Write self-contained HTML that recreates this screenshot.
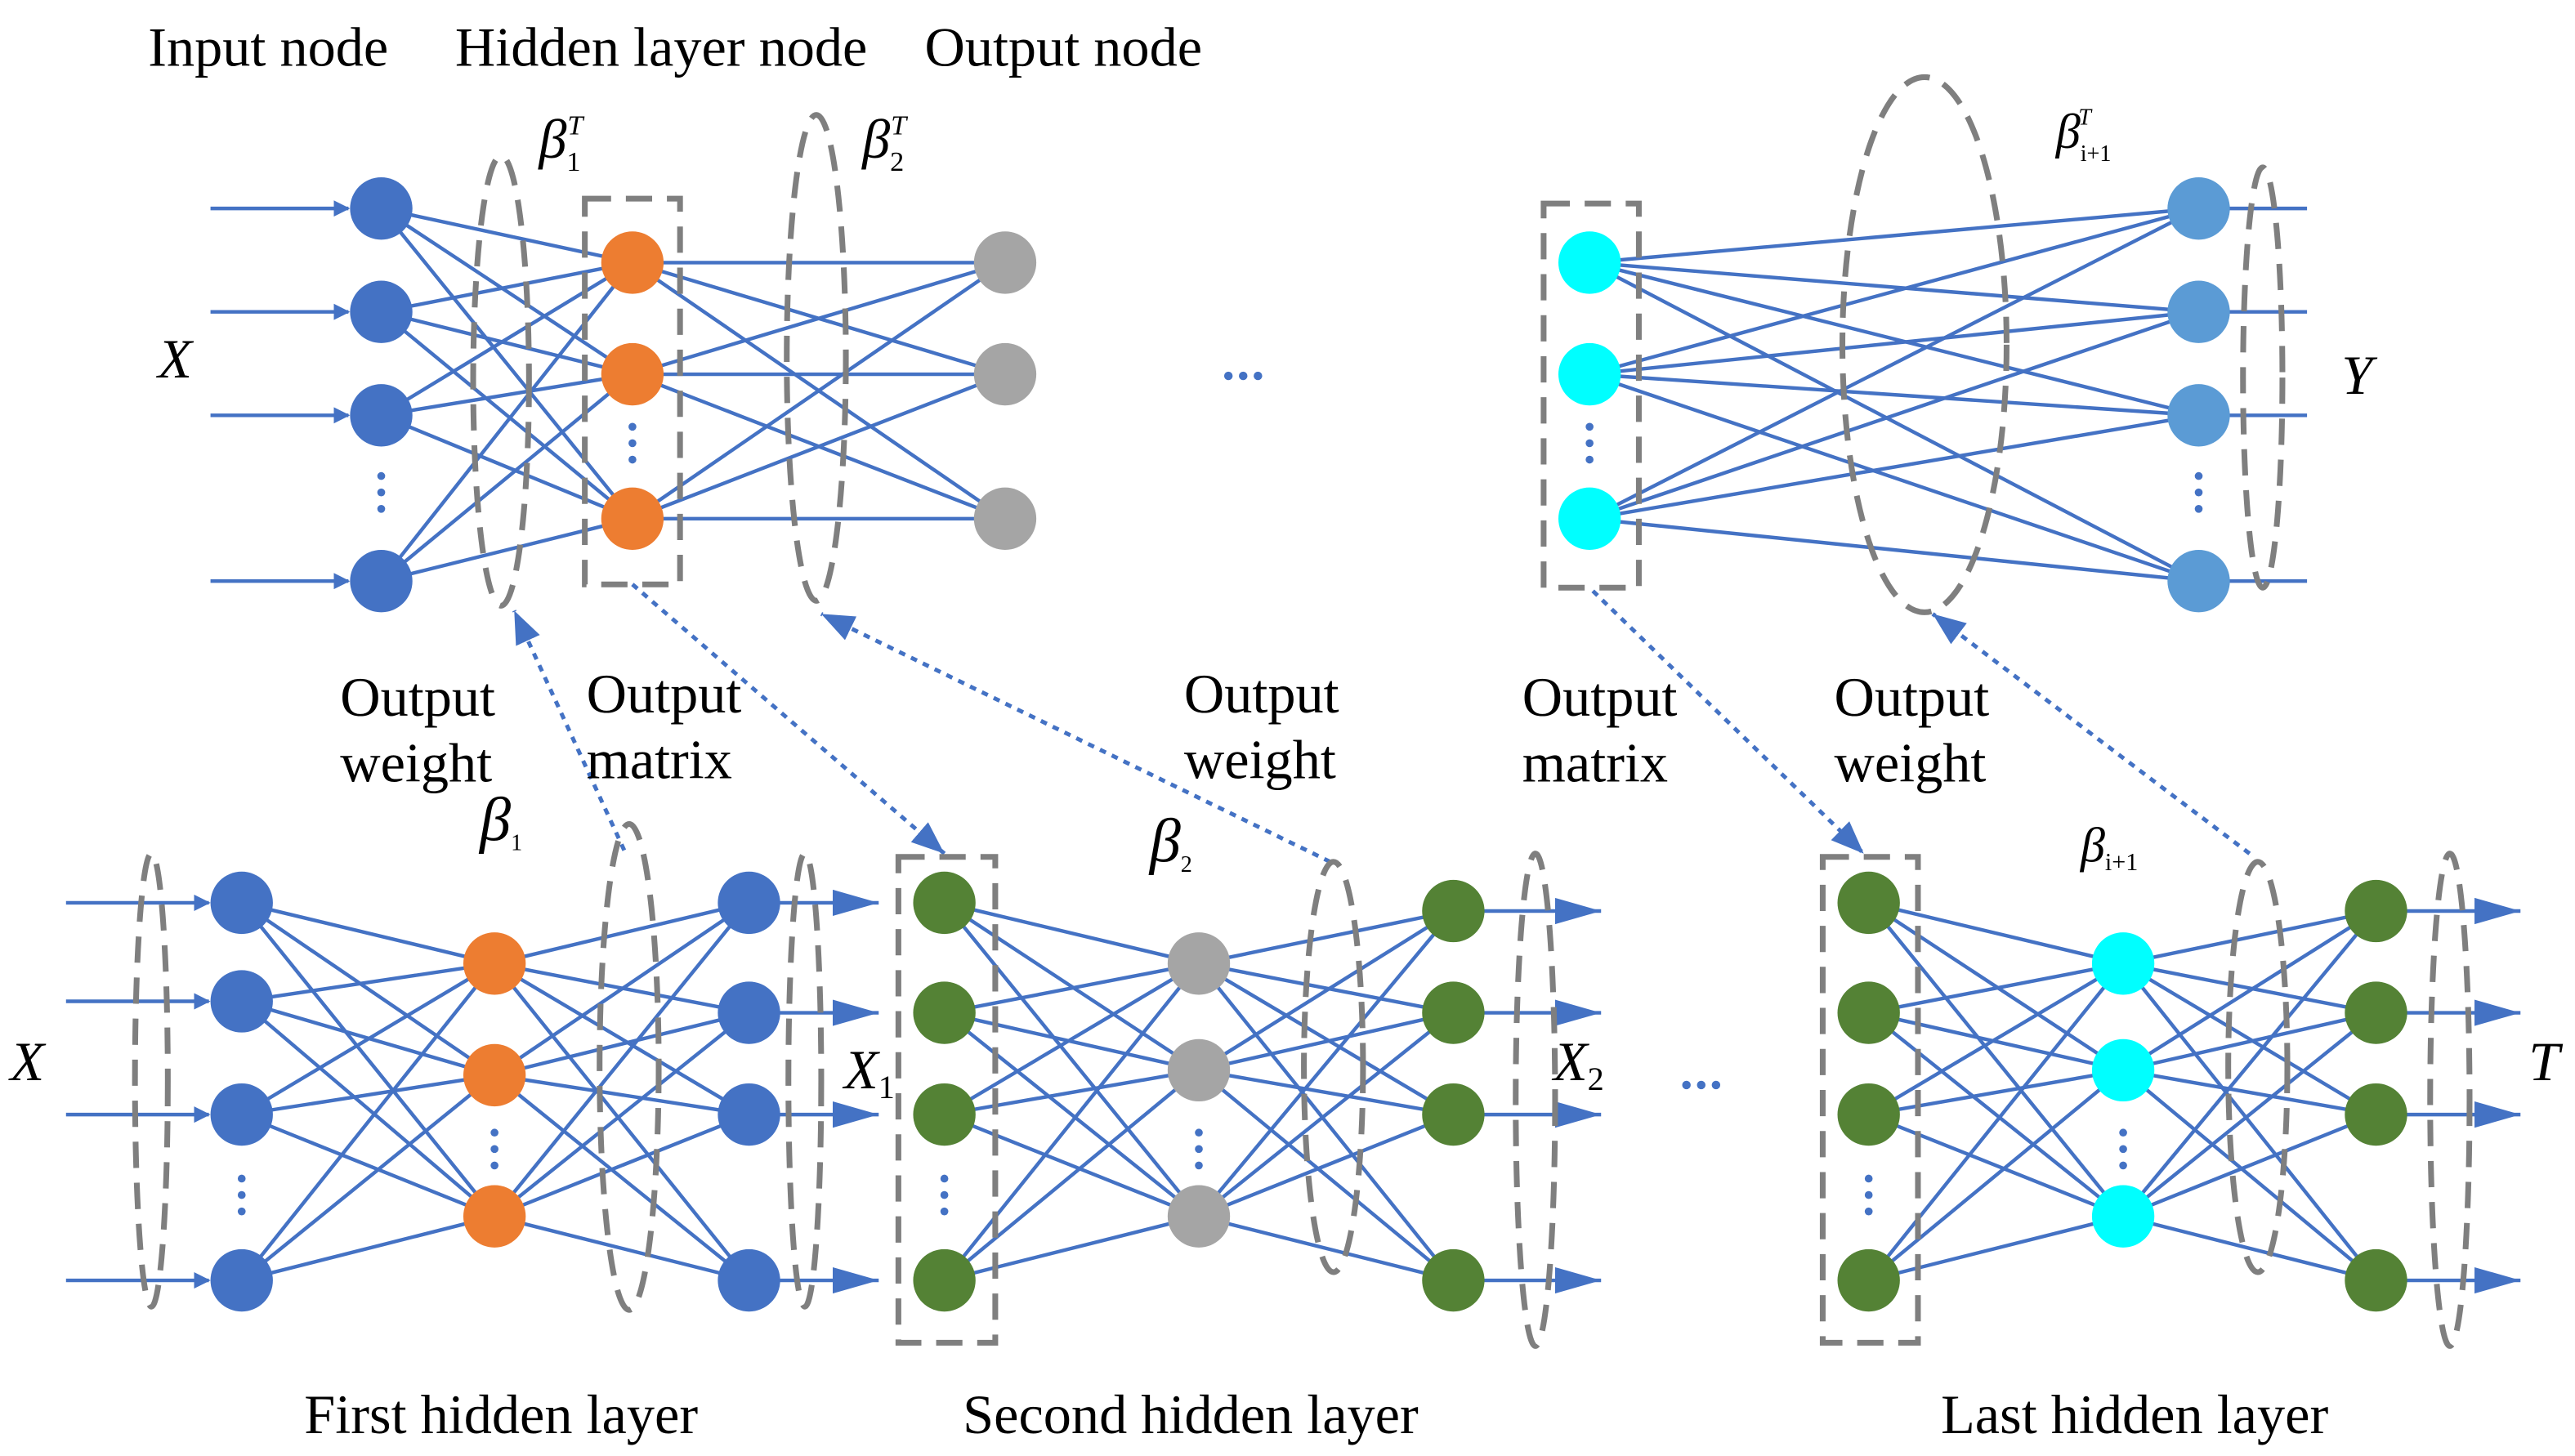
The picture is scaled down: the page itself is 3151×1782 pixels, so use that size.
<!DOCTYPE html>
<html><head><meta charset="utf-8">
<style>
html,body{margin:0;padding:0;background:#fff;}
svg{display:block;}
text{font-family:"Liberation Serif",serif;fill:#000;}
</style></head>
<body>
<svg id="s" width="3151" height="1782" viewBox="0 0 1568 887" xmlns="http://www.w3.org/2000/svg">
<defs>
<marker id="ah" markerWidth="10" markerHeight="10" refX="9" refY="5" orient="auto" markerUnits="userSpaceOnUse"><path d="M0,0 L10,5 L0,10 z" fill="#4472C4"/></marker>
<marker id="bh" markerWidth="30" markerHeight="20" refX="28" refY="10" orient="auto" markerUnits="userSpaceOnUse"><path d="M0,2 L28,10 L0,18 z" fill="#4472C4"/></marker>
<marker id="dh" markerWidth="22" markerHeight="18" refX="20" refY="9" orient="auto" markerUnits="userSpaceOnUse"><path d="M0,1 L20,9 L0,17 z" fill="#4472C4"/></marker>
</defs>
<g id="lines" stroke="#4472C4" stroke-width="2.2" fill="none"></g>
<g id="shapes" fill="none" stroke="#7F7F7F" stroke-width="3.5" stroke-dasharray="16,9"></g>
<g id="nodes"></g>
<g id="txt" font-size="34">
<text x="90" y="40">Input node</text>
<text x="277" y="40">Hidden layer node</text>
<text x="563" y="40">Output node</text>
<text x="96" y="230" font-style="italic">X</text>
<text x="328" y="96" font-style="italic">β<tspan font-size="17" font-style="normal" dy="8">1</tspan><tspan font-size="17" dx="-8" dy="-22">T</tspan></text>
<text x="525" y="96" font-style="italic">β<tspan font-size="17" font-style="normal" dy="8">2</tspan><tspan font-size="17" dx="-8" dy="-22">T</tspan></text>
<text x="1252" y="90" font-style="italic" font-size="30">β<tspan font-size="14" font-style="normal" dy="8">i+1</tspan><tspan font-size="14" dx="-20" dy="-22">T</tspan></text>
<text x="1426" y="240" font-style="italic">Y</text>
<text x="207" y="436">Output</text><text x="207" y="476">weight</text>
<text x="357" y="434">Output</text><text x="357" y="474">matrix</text>
<text x="721" y="434">Output</text><text x="721" y="474">weight</text>
<text x="927" y="436">Output</text><text x="927" y="476">matrix</text>
<text x="1117" y="436">Output</text><text x="1117" y="476">weight</text>
<text x="292" y="512" font-style="italic" font-size="38">β<tspan font-size="14" font-style="normal" dy="6">1</tspan></text>
<text x="700" y="525" font-style="italic" font-size="38">β<tspan font-size="14" font-style="normal" dy="6">2</tspan></text>
<text x="1267" y="525" font-style="italic" font-size="30">β<tspan font-size="15" font-style="normal" dy="5">i+1</tspan></text>
<text x="6" y="658" font-style="italic">X</text>
<text x="514" y="663" font-style="italic">X<tspan font-size="20" font-style="normal" dy="6">1</tspan></text>
<text x="946" y="658" font-style="italic">X<tspan font-size="20" font-style="normal" dy="6">2</tspan></text>
<text x="1540" y="658" font-style="italic">T</text>
<text x="305" y="873" text-anchor="middle">First hidden layer</text>
<text x="725" y="873" text-anchor="middle">Second hidden layer</text>
<text x="1300" y="873" text-anchor="middle">Last hidden layer</text>
</g>
</svg>
<script>
const NS="http://www.w3.org/2000/svg";
const L=document.getElementById('lines'),S=document.getElementById('shapes'),N=document.getElementById('nodes');
function el(p,t,a){const e=document.createElementNS(NS,t);for(const k in a)e.setAttribute(k,a[k]);p.appendChild(e);return e;}
function line(x1,y1,x2,y2,extra){return el(L,'line',Object.assign({x1,y1,x2,y2},extra||{}));}
function nodes(x,ys,c){ys.forEach(y=>el(N,'circle',{cx:x,cy:y,r:19,fill:c}));}
function dots(x,y,c){[-10,0,10].forEach(d=>el(N,'circle',{cx:x,cy:y+d,r:2.4,fill:c||'#4472C4'}));}
function hdots(x,y){[-9,0,9].forEach(d=>el(N,'circle',{cx:x+d,cy:y,r:2.6,fill:'#4472C4'}));}
function full(x1,ys1,x2,ys2){ys1.forEach(a=>ys2.forEach(b=>line(x1,a,x2,b)));}
function ell(cx,cy,rx,ry){el(S,'ellipse',{cx,cy,rx,ry});}
function rect(x,y,w,h){el(S,'rect',{x,y,width:w,height:h});}
const BL='#4472C4',OR='#ED7D31',GR='#A5A5A5',CY='#00FFFF',LB='#5B9BD5',GN='#548235';
hdots(757,229); hdots(1036,661);
const ti=[127,190,253,354], th=[160,228,316];
ti.forEach(y=>line(128,y,212,y,{'marker-end':'url(#ah)'}));
full(232,ti,385,th); full(385,th,612,th);
rect(356,121,58,235); ell(305,232,17,137); ell(497,218,18,148);
nodes(232,ti,BL); dots(232,300); nodes(385,th,OR); dots(385,270); nodes(612,th,GR);
const cy=[160,228,316], ro=[127,190,253,354];
full(968,cy,1339,ro);
ro.forEach(y=>line(1339,y,1405,y));
rect(940,124,58,234); ell(1172,210,50,163); ell(1378,230,12,128);
nodes(968,cy,CY); dots(968,270); nodes(1339,ro,LB); dots(1339,300);
function net(xi,xh,xo,ins,hs,outs,ci,ch,co,arrIn,x0,x1){
  if(arrIn) ins.forEach(y=>line(x0,y,xi-20,y,{'marker-end':'url(#ah)'}));
  full(xi,ins,xh,hs); full(xh,hs,xo,outs);
  outs.forEach(y=>line(xo,y,x1,y,{'marker-end':'url(#bh)'}));
  nodes(xi,ins,ci); dots(xi,728); nodes(xh,hs,ch); dots(xh,700); nodes(xo,outs,co);
}
net(147,301,456,[550,610,679,780],[587,655,741],[550,617,679,780],BL,OR,BL,true,40,535);
ell(92,658,10,138); ell(383,650,18,148); ell(490,658,10,138);
net(575,730,885,[550,617,679,780],[587,652,741],[555,617,679,780],GN,GR,GN,false,0,975);
rect(547,522,59,296); ell(812,650,18,125); ell(935,670,12,150);
net(1138,1293,1447,[550,617,679,780],[587,652,741],[555,617,679,780],GN,CY,GN,false,0,1535);
rect(1110,522,58,296); ell(1375,650,18,125); ell(1492,670,12,150);
const da={stroke:BL,'stroke-width':2.5,'stroke-dasharray':'4,4','marker-end':'url(#dh)'};
line(380,518,313,372,da); line(385,356,575,520,da); line(810,525,500,374,da);
line(970,360,1135,520,da); line(1370,520,1177,374,da);
</script>
</body></html>
